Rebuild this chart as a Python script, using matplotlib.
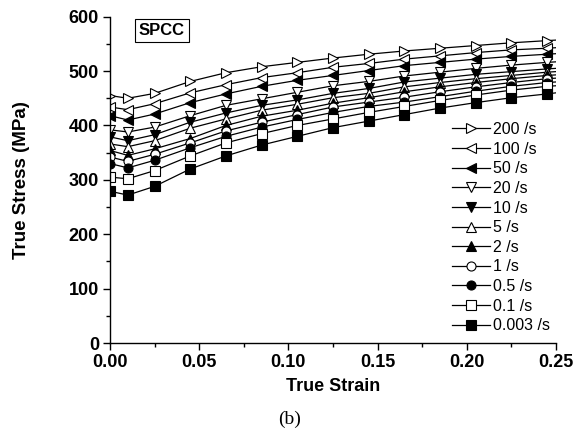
import matplotlib
matplotlib.use("Agg")
import matplotlib.pyplot as plt
from matplotlib.ticker import MultipleLocator, FormatStrFormatter

strain = [0.0, 0.01, 0.025, 0.045, 0.065, 0.085, 0.105, 0.125, 0.145, 0.165, 0.185, 0.205, 0.225, 0.245, 0.25]

labels = ["200 /s", "100 /s", "50 /s", "20 /s", "10 /s", "5 /s", "2 /s", "1 /s", "0.5 /s", "0.1 /s", "0.003 /s"]

s200 = [455, 450, 459, 481, 497, 508, 516, 524, 531, 537, 542, 547, 552, 556, 557]
s100 = [434, 429, 440, 460, 475, 488, 497, 507, 514, 522, 528, 534, 539, 542, 543]
s50 = [418, 410, 421, 442, 458, 472, 483, 492, 501, 510, 516, 522, 527, 531, 532]
s20 = [392, 388, 397, 418, 437, 449, 461, 473, 481, 491, 498, 505, 511, 516, 517]
s10 = [379, 372, 383, 406, 423, 437, 447, 459, 468, 480, 487, 494, 499, 504, 505]
s5 = [366, 361, 372, 395, 412, 428, 439, 451, 459, 471, 479, 486, 492, 498, 499]
s2 = [354, 345, 357, 376, 400, 417, 428, 441, 451, 462, 471, 479, 486, 492, 493]
s1 = [342, 334, 347, 368, 390, 406, 420, 434, 443, 452, 462, 471, 479, 486, 487]
s05 = [330, 322, 336, 359, 380, 397, 411, 424, 435, 443, 453, 463, 472, 479, 480]
s01 = [305, 302, 317, 344, 368, 385, 400, 412, 424, 435, 446, 456, 465, 472, 473]
s0003 = [279, 272, 288, 320, 344, 364, 380, 396, 408, 420, 432, 442, 451, 458, 460]

series = [s200, s100, s50, s20, s10, s5, s2, s1, s05, s01, s0003]
markers = [">", "<", "<", "v", "v", "^", "^", "o", "o", "s", "s"]
filled = [False, False, True, False, True, False, True, False, True, False, True]

plt.rcParams['font.family'] = ['Liberation Sans', 'DejaVu Sans']

fig = plt.figure(figsize=(5.8, 4.36), dpi=100)
ax = fig.add_axes([110/580, 93/436, 446/580, (343-16.7)/436])

for vals, lab, m, f in zip(series, labels, markers, filled):
    ax.plot(strain, vals, color='black', lw=0.9, marker=m, markersize=6.5,
            markerfacecolor='black' if f else 'white', markeredgecolor='black',
            markeredgewidth=0.8, markevery=list(range(len(strain) - 1)), label=lab)

ax.set_xlim(0, 0.25)
ax.set_ylim(0, 600)
ax.spines['top'].set_visible(False)
ax.spines['right'].set_visible(False)
ax.spines['left'].set_linewidth(1.0)
ax.spines['bottom'].set_linewidth(1.0)
ax.xaxis.set_major_locator(MultipleLocator(0.05))
ax.xaxis.set_minor_locator(MultipleLocator(0.025))
ax.yaxis.set_major_locator(MultipleLocator(100))
ax.yaxis.set_minor_locator(MultipleLocator(50))
ax.xaxis.set_major_formatter(FormatStrFormatter('%.2f'))
ax.tick_params(which='major', direction='out', length=5, width=1.0, labelsize=13, pad=3)
ax.tick_params(which='minor', direction='out', length=3, width=1.0)
for t in ax.get_xticklabels() + ax.get_yticklabels():
    t.set_fontweight('bold')

ax.set_xlabel('True Strain', fontsize=13, fontweight='bold', labelpad=5)
ax.set_ylabel('True Stress (MPa)', fontsize=13.5, fontweight='bold', labelpad=28)

fig.text(162/580, 1 - 30.5/436, 'SPCC', fontsize=12, fontweight='bold',
         ha='center', va='center',
         bbox=dict(boxstyle='square,pad=0.25', facecolor='white', edgecolor='black', linewidth=0.8))

leg = ax.legend(loc='upper left', bbox_to_anchor=(444/580, 1 - 114/436), bbox_transform=fig.transFigure,
                frameon=False, fontsize=11.5, handlelength=2.4, handletextpad=0.15,
                labelspacing=0.29, borderpad=0.0)

fig.text(0.5, 1 - 419/436, '(b)', ha='center', va='center', fontsize=14,
         family=['Liberation Serif', 'DejaVu Serif'])

fig.savefig('out.png', dpi=100)
